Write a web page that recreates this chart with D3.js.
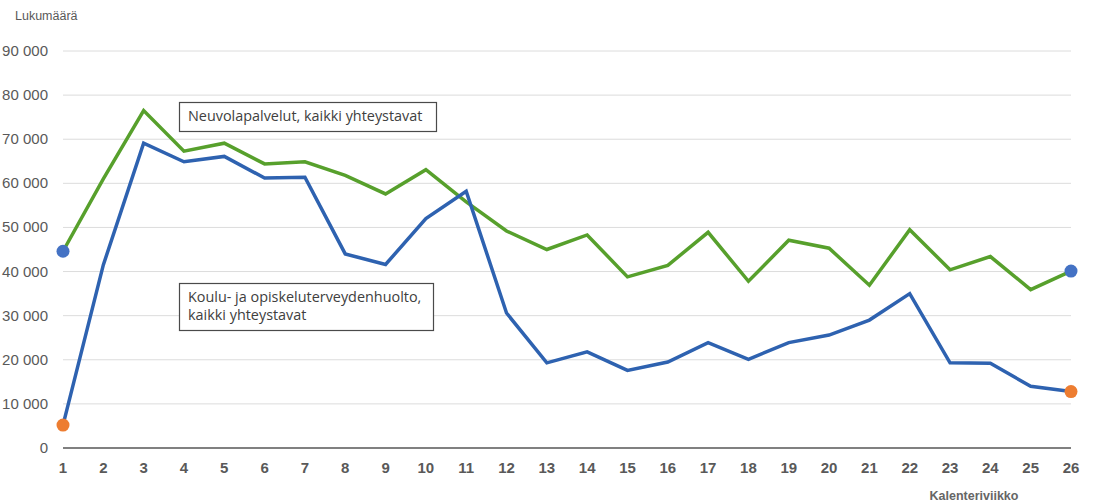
<!DOCTYPE html>
<html>
<head>
<meta charset="utf-8">
<script src="https://cdn.jsdelivr.net/npm/d3@7"></script>
<style>
  body { margin: 0; background: #fff; }
  svg { display: block; font-family: "Liberation Sans", Arial, sans-serif; }
</style>
</head>
<body>
<div id="chart"></div>
<script>
// week numbers on x axis
const weeks = d3.range(1, 27);
// Neuvolapalvelut, kaikki yhteystavat
const neuvola = [44600, 61000, 76500, 67300, 69100, 64400, 64900, 61800, 57600, 63100,
  55800, 49200, 45000, 48300, 38800, 41400, 48900, 37800, 47100, 45300,
  36900, 49500, 40400, 43400, 35900, 40100];
// Koulu- ja opiskeluterveydenhuolto, kaikki yhteystavat
const koulu = [5200, 41500, 69100, 64900, 66100, 61200, 61400, 44000, 41600, 52000,
  58200, 30600, 19300, 21800, 17600, 19500, 23900, 20100, 23900, 25600,
  29000, 35000, 19300, 19200, 14000, 12800];
const yTicks = d3.range(0, 90001, 10000);

const W = 1093, H = 502;
const margin = {left: 63, right: 22, top: 51, bottom: 54};

const svg = d3.select('#chart').append('svg').attr('width', W).attr('height', H);

const x = d3.scaleLinear().domain([1, 26]).range([margin.left, W - margin.right]);
const y = d3.scaleLinear().domain([0, 90000]).range([H - margin.bottom, margin.top]);

const fmt = v => d3.format(',')(v).replace(/,/g, ' ');

// gridlines
svg.append('g').selectAll('line').data(yTicks.filter(d => d > 0)).join('line')
  .attr('x1', x(1)).attr('x2', x(26))
  .attr('y1', d => y(d)).attr('y2', d => y(d))
  .attr('stroke', '#dcdcdc').attr('stroke-width', 1);

// baseline
svg.append('line')
  .attr('x1', x(1)).attr('x2', x(26))
  .attr('y1', y(0)).attr('y2', y(0))
  .attr('stroke', '#808080').attr('stroke-width', 2);

// y axis labels
svg.append('g').selectAll('text').data(yTicks).join('text')
  .attr('x', 48).attr('y', d => y(d) + 5)
  .attr('text-anchor', 'end')
  .attr('font-size', '15px').attr('fill', '#595959')
  .text(fmt);

// x axis labels
svg.append('g').selectAll('text').data(weeks).join('text')
  .attr('x', d => x(d)).attr('y', 473)
  .attr('text-anchor', 'middle')
  .attr('font-size', '15px').attr('font-weight', 'bold').attr('fill', '#595959')
  .text(d => d);

svg.append('text').attr('x', 15).attr('y', 20)
  .attr('font-size', '12.5px').attr('fill', '#595959').text('Lukumäärä');

svg.append('text').attr('x', 974).attr('y', 500).attr('text-anchor', 'middle')
  .attr('font-size', '12.5px').attr('font-weight', 'bold').attr('fill', '#666')
  .text('Kalenteriviikko');

const line = d3.line().x((d, i) => x(weeks[i])).y(d => y(d));

svg.append('path').datum(neuvola).attr('d', line)
  .attr('fill', 'none').attr('stroke', '#57a02c').attr('stroke-width', 3.5)
  .attr('stroke-linejoin', 'miter');
svg.append('path').datum(koulu).attr('d', line)
  .attr('fill', 'none').attr('stroke', '#2e62b0').attr('stroke-width', 3.5)
  .attr('stroke-linejoin', 'miter');

// end markers
const ends = [
  {w: 1, v: neuvola[0], c: '#4472c4'},
  {w: 26, v: neuvola[25], c: '#4472c4'},
  {w: 1, v: koulu[0], c: '#ed7d31'},
  {w: 26, v: koulu[25], c: '#ed7d31'}
];
svg.append('g').selectAll('circle').data(ends).join('circle')
  .attr('cx', d => x(d.w)).attr('cy', d => y(d.v)).attr('r', 6.5)
  .attr('fill', d => d.c);

// annotation boxes
const notes = [
  {x: 179, y: 102, w: 257, h: 29, lines: ['Neuvolapalvelut, kaikki yhteystavat']},
  {x: 179, y: 283, w: 254, h: 47, lines: ['Koulu- ja opiskeluterveydenhuolto,', 'kaikki yhteystavat']}
];
const ng = svg.append('g').selectAll('g').data(notes).join('g');
ng.append('rect')
  .attr('x', d => d.x + 0.5).attr('y', d => d.y + 0.5)
  .attr('width', d => d.w).attr('height', d => d.h)
  .attr('fill', '#fff').attr('stroke', '#4a4a4a').attr('stroke-width', 1.2);
ng.each(function(d) {
  d3.select(this).selectAll('text').data(d.lines).join('text')
    .attr('x', d.x + 9).attr('y', (t, i) => d.y + 19 + i * 18)
    .attr('font-family', '"Open Sans", sans-serif')
    .attr('font-size', '14.4px').attr('fill', '#404040')
    .text(t => t);
});
</script>
</body>
</html>
